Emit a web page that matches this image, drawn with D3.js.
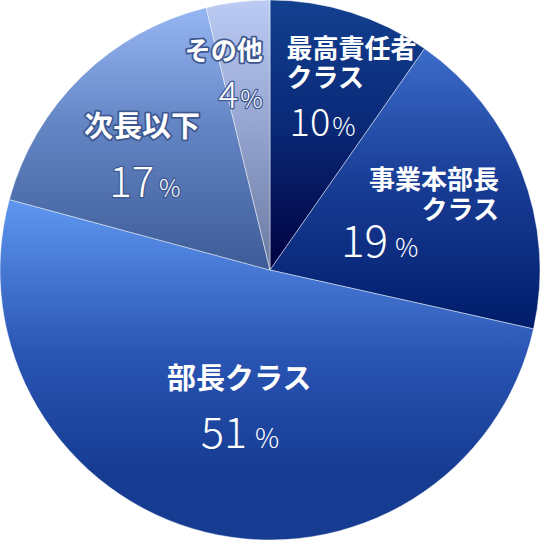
<!DOCTYPE html>
<html>
<head>
<meta charset="utf-8">
<script src="https://cdn.jsdelivr.net/npm/d3@7"></script>
<style>
  html, body { margin: 0; padding: 0; background: #fff; }
  svg { display: block; }
  text { font-family: "Noto Sans CJK JP", "Noto Sans", sans-serif; fill: #fff; }
</style>
</head>
<body>
<svg id="chart" width="541" height="541"></svg>
<script>
// data, clockwise from 12 o'clock
const categories = ['最高責任者クラス', '事業本部長クラス', '部長クラス', '次長以下', 'その他'];
const nameLines = [['最高責任者', 'クラス'], ['事業本部長', 'クラス'], ['部長クラス'], ['次長以下'], ['その他']];
const values = [9.7, 18.8, 50.7, 17.0, 3.8];
const pctLabels = ['10', '19', '51', '17', '4'];

// gradient top / mid / bottom for each slice
const sliceColors = [
  ['#12408f', '#0a2a78', '#000040'],
  ['#3c6cc9', '#1a3f98', '#001c6a'],
  ['#5f97ef', '#2a55b4', '#163c92'],
  ['#96b6f3', '#6485c4', '#3c5b97'],
  ['#bccbf3', '#97a6d2', '#6b7aa0']
];

// label layout, offsets from the slice centroid
const labelLayout = [
  { name: [-32, -57, 'start'], lineGap: 29, nameSize: 26, pct: [-29, 21, 'start'], numSize: 38, pctSize: 26, gap: 2, halo: false },
  { name: [78, -22, 'end'], lineGap: 30, nameSize: 26, pct: [-80, 46, 'start'], numSize: 44, pctSize: 26, gap: 7, halo: false },
  { name: [8, -38, 'middle'], lineGap: 0, nameSize: 29, pct: [9, 21, 'middle'], numSize: 43, pctSize: 27, gap: 8, halo: false },
  { name: [-15, -17, 'middle'], lineGap: 0, nameSize: 29, pct: [-12, 43, 'middle'], numSize: 42, pctSize: 24, gap: 5, halo: true },
  { name: [12, -49, 'end'], lineGap: 0, nameSize: 26, pct: [12, -1, 'end'], numSize: 37, pctSize: 25, gap: 2, halo: true }
];

const svg = d3.select('#chart');
const cx = 270, cy = 270, R = 270;

const defs = svg.append('defs');
sliceColors.forEach((c, i) => {
  const grad = defs.append('linearGradient')
    .attr('id', 'grad' + i)
    .attr('x1', 0).attr('y1', 0).attr('x2', 0).attr('y2', 1);
  grad.append('stop').attr('offset', '0%').attr('stop-color', c[0]);
  grad.append('stop').attr('offset', '45%').attr('stop-color', c[1]);
  grad.append('stop').attr('offset', i === 2 ? '80%' : '100%').attr('stop-color', c[2]);
  if (i === 2) grad.append('stop').attr('offset', '100%').attr('stop-color', c[2]);
});

const pie = d3.pie().sort(null).value(d => d);
const arcs = pie(values);
const arc = d3.arc().innerRadius(0).outerRadius(R);
const labelArc = d3.arc().innerRadius(R * 0.6).outerRadius(R * 0.6);

const g = svg.append('g').attr('transform', `translate(${cx},${cy})`);

g.selectAll('path.slice')
  .data(arcs)
  .enter()
  .append('path')
  .attr('class', 'slice')
  .attr('d', arc)
  .attr('fill', (d, i) => `url(#grad${i})`)
  .attr('stroke', 'rgba(255,255,255,0.55)')
  .attr('stroke-width', 0.8);

arcs.forEach((d, i) => {
  const [px, py] = labelArc.centroid(d);
  const lay = labelLayout[i];
  const lab = g.append('g').attr('class', 'label').attr('transform', `translate(${px},${py})`);

  // outlined text on the pale slices
  const haloOn = (sel, w) => {
    if (!lay.halo) return sel;
    return sel.attr('stroke', '#3d5790').attr('stroke-width', w)
      .attr('stroke-linejoin', 'round').attr('paint-order', 'stroke');
  };

  const nm = lab.append('text')
    .attr('text-anchor', lay.name[2])
    .attr('font-size', lay.nameSize)
    .attr('font-weight', 'bold')
    .call(haloOn, 3.5);
  nameLines[i].forEach((line, j) => {
    nm.append('tspan')
      .attr('x', lay.name[0])
      .attr('y', lay.name[1] + j * lay.lineGap)
      .text(line);
  });

  const t = lab.append('text')
    .attr('x', lay.pct[0]).attr('y', lay.pct[1])
    .attr('text-anchor', lay.pct[2])
    .attr('font-weight', 300)
    .call(haloOn, 2.5);
  t.append('tspan').attr('font-size', lay.numSize).text(pctLabels[i]);
  t.append('tspan').attr('font-size', lay.pctSize).attr('dx', lay.gap).text('%');
});
</script>
</body>
</html>
